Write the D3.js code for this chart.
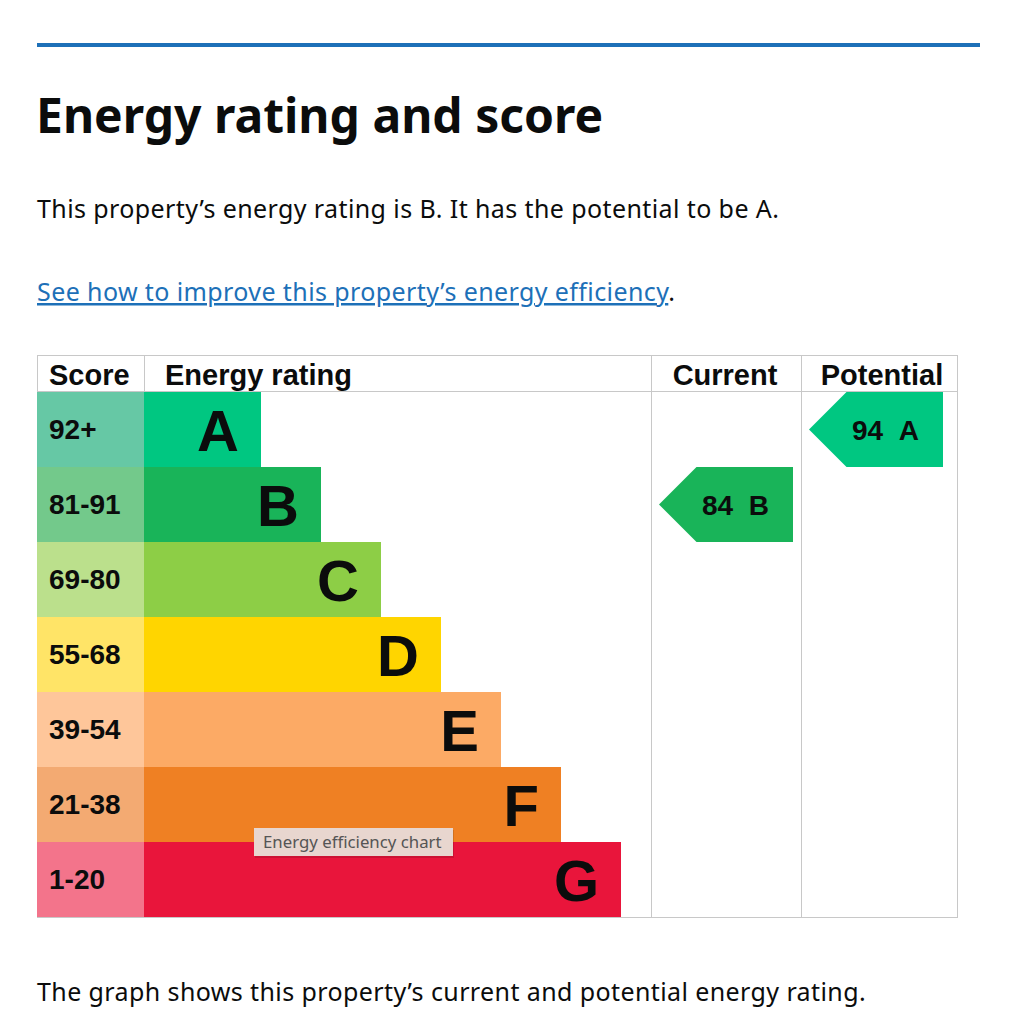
<!DOCTYPE html>
<html>
<head>
<meta charset="utf-8">
<script src="https://cdn.jsdelivr.net/npm/d3@7"></script>
<style>
  html, body { margin: 0; padding: 0; background: #fff; }
  svg { display: block; }
  .gds { font-family: "Noto Sans", sans-serif; fill: #0b0c0c; }
  .epc { font-family: "Liberation Sans", Arial, sans-serif; font-weight: bold; fill: #0b0c0c; }
</style>
</head>
<body>
<div id="chart"></div>
<script>
// rating bands, top to bottom
const bands = ["A", "B", "C", "D", "E", "F", "G"];
const scoreRanges = ["92+", "81-91", "69-80", "55-68", "39-54", "21-38", "1-20"];
// bar length rank for each band (A shortest)
const barRank = [1, 2, 3, 4, 5, 6, 7];
const columns = ["Score", "Energy rating", "Current", "Potential"];

const currentRating = { score: 84, band: "B" };
const potentialRating = { score: 94, band: "A" };

const bandColors = ["#00c781", "#19b459", "#8dce46", "#ffd500", "#fcaa65", "#ef8023", "#e9153b"];
const scoreColors = ["#66c8a5", "#73c98b", "#bbe08c", "#ffe467", "#fec69a", "#f3aa72", "#f3748b"];

const width = 1024, height = 1022;

const svg = d3.select("#chart").append("svg")
    .attr("width", width)
    .attr("height", height);

// blue rule at top
svg.append("rect")
    .attr("x", 37).attr("y", 43)
    .attr("width", 943).attr("height", 4)
    .attr("fill", "#1d70b8");

svg.append("text")
    .attr("class", "gds")
    .attr("x", 36).attr("y", 133)
    .attr("font-size", 48)
    .attr("font-weight", "bold")
    .text("Energy rating and score");

const bodySize = 25, bodySpacing = 0.4;

svg.append("text")
    .attr("class", "gds")
    .attr("x", 37).attr("y", 218)
    .attr("font-size", bodySize)
    .attr("letter-spacing", bodySpacing)
    .text("This property\u2019s energy rating is " + currentRating.band + ". It has the potential to be " + potentialRating.band + ".");

let link = svg.append("text")
    .attr("class", "gds")
    .attr("x", 37).attr("y", 301)
    .attr("font-size", bodySize)
    .attr("letter-spacing", bodySpacing);
link.append("tspan")
    .attr("fill", "#1d70b8")
    .attr("text-decoration", "underline")
    .text("See how to improve this property\u2019s energy efficiency");
link.append("tspan").text(".");

svg.append("text")
    .attr("class", "gds")
    .attr("x", 37).attr("y", 1001)
    .attr("font-size", bodySize)
    .attr("letter-spacing", bodySpacing)
    .text("The graph shows this property\u2019s current and potential energy rating.");

// ---- the chart table ----
const tableTop = 355, headH = 37;
const colX = { left: 37, score: 144, current: 651, potential: 801, right: 957 };

let y = d3.scaleBand()
    .domain(bands)
    .range([tableTop + headH, tableTop + headH + 75 * bands.length]);

let x = d3.scaleLinear()
    .domain([0, 7])
    .range([colX.score + 57, colX.score + 477]);

let color = d3.scaleOrdinal(bands, bandColors);
let paleColor = d3.scaleOrdinal(bands, scoreColors);

let chart = svg.append("g");

// score cells
chart.selectAll("rect.score")
    .data(bands)
    .enter().append("rect")
    .attr("class", "score")
    .attr("x", colX.left)
    .attr("y", d => y(d))
    .attr("width", colX.score - colX.left)
    .attr("height", y.bandwidth())
    .attr("fill", d => paleColor(d));

chart.selectAll("text.scoreLabel")
    .data(bands)
    .enter().append("text")
    .attr("class", "epc scoreLabel")
    .attr("x", 49)
    .attr("y", d => y(d) + y.bandwidth() / 2 + 9)
    .attr("font-size", 28)
    .text((d, i) => scoreRanges[i]);

// rating bars
chart.selectAll("rect.bar")
    .data(bands)
    .enter().append("rect")
    .attr("class", "bar")
    .attr("x", colX.score)
    .attr("y", d => y(d))
    .attr("width", (d, i) => x(barRank[i]) - colX.score)
    .attr("height", y.bandwidth())
    .attr("fill", d => color(d));

chart.selectAll("text.barLabel")
    .data(bands)
    .enter().append("text")
    .attr("class", "epc barLabel")
    .attr("x", (d, i) => x(barRank[i]) - 22)
    .attr("y", d => y(d) + y.bandwidth() / 2 + 21)
    .attr("text-anchor", "end")
    .attr("font-size", 58)
    .text(d => d);

// grid lines
const lineColor = "#c8c8c8";
const bottom = y.range()[1];
let grid = chart.append("g").attr("stroke", lineColor).attr("stroke-width", 1);
grid.append("line").attr("x1", colX.left).attr("x2", colX.right).attr("y1", tableTop + 0.5).attr("y2", tableTop + 0.5);
grid.append("line").attr("x1", colX.left).attr("x2", colX.right).attr("y1", tableTop + headH - 0.5).attr("y2", tableTop + headH - 0.5);
grid.append("line").attr("x1", colX.left).attr("x2", colX.right).attr("y1", bottom + 0.5).attr("y2", bottom + 0.5);
grid.append("line").attr("x1", colX.left + 0.5).attr("x2", colX.left + 0.5).attr("y1", tableTop).attr("y2", tableTop + headH);
grid.append("line").attr("x1", colX.score + 0.5).attr("x2", colX.score + 0.5).attr("y1", tableTop).attr("y2", tableTop + headH);
[colX.current, colX.potential, colX.right].forEach(cx => {
    grid.append("line").attr("x1", cx + 0.5).attr("x2", cx + 0.5).attr("y1", tableTop).attr("y2", bottom + 1);
});

// headers
chart.append("text").attr("class", "epc").attr("font-size", 29)
    .attr("x", 49).attr("y", 385).text(columns[0]);
chart.append("text").attr("class", "epc").attr("font-size", 29)
    .attr("x", 165).attr("y", 385).text(columns[1]);
chart.append("text").attr("class", "epc").attr("font-size", 29)
    .attr("x", (colX.current + colX.potential) / 2 - 1).attr("y", 385)
    .attr("text-anchor", "middle").text(columns[2]);
chart.append("text").attr("class", "epc").attr("font-size", 29)
    .attr("x", (colX.potential + colX.right) / 2 + 3).attr("y", 385)
    .attr("text-anchor", "middle").text(columns[3]);

// arrows for current and potential
function arrow(col, rating) {
    let tip = col + 8, w = 134, point = 37.5;
    let y0 = y(rating.band), h = y.bandwidth();
    let pts = [[tip, y0 + h / 2], [tip + point, y0], [tip + w, y0], [tip + w, y0 + h], [tip + point, y0 + h]];
    chart.append("polygon")
        .attr("points", pts.map(p => p.join(",")).join(" "))
        .attr("fill", color(rating.band));
    chart.append("text")
        .attr("class", "epc")
        .attr("font-size", 28)
        .attr("x", tip + 43)
        .attr("y", y0 + h / 2 + 10)
        .text(rating.score + "\u00a0\u00a0" + rating.band);
}
arrow(colX.current, currentRating);
arrow(colX.potential, potentialRating);

// hover tooltip as it appears in the screenshot
let tip = svg.append("g").attr("transform", "translate(254,828)");
tip.append("rect")
    .attr("x", 1).attr("y", 2)
    .attr("width", 199).attr("height", 28)
    .attr("fill", "#000").attr("opacity", 0.12);
tip.append("rect")
    .attr("width", 199).attr("height", 28)
    .attr("fill", "#e8d6cf");
tip.append("text")
    .attr("x", 9).attr("y", 20)
    .attr("font-family", "'Noto Sans', sans-serif")
    .attr("font-size", 16.8)
    .attr("fill", "#555")
    .text("Energy efficiency chart");
</script>
</body>
</html>
